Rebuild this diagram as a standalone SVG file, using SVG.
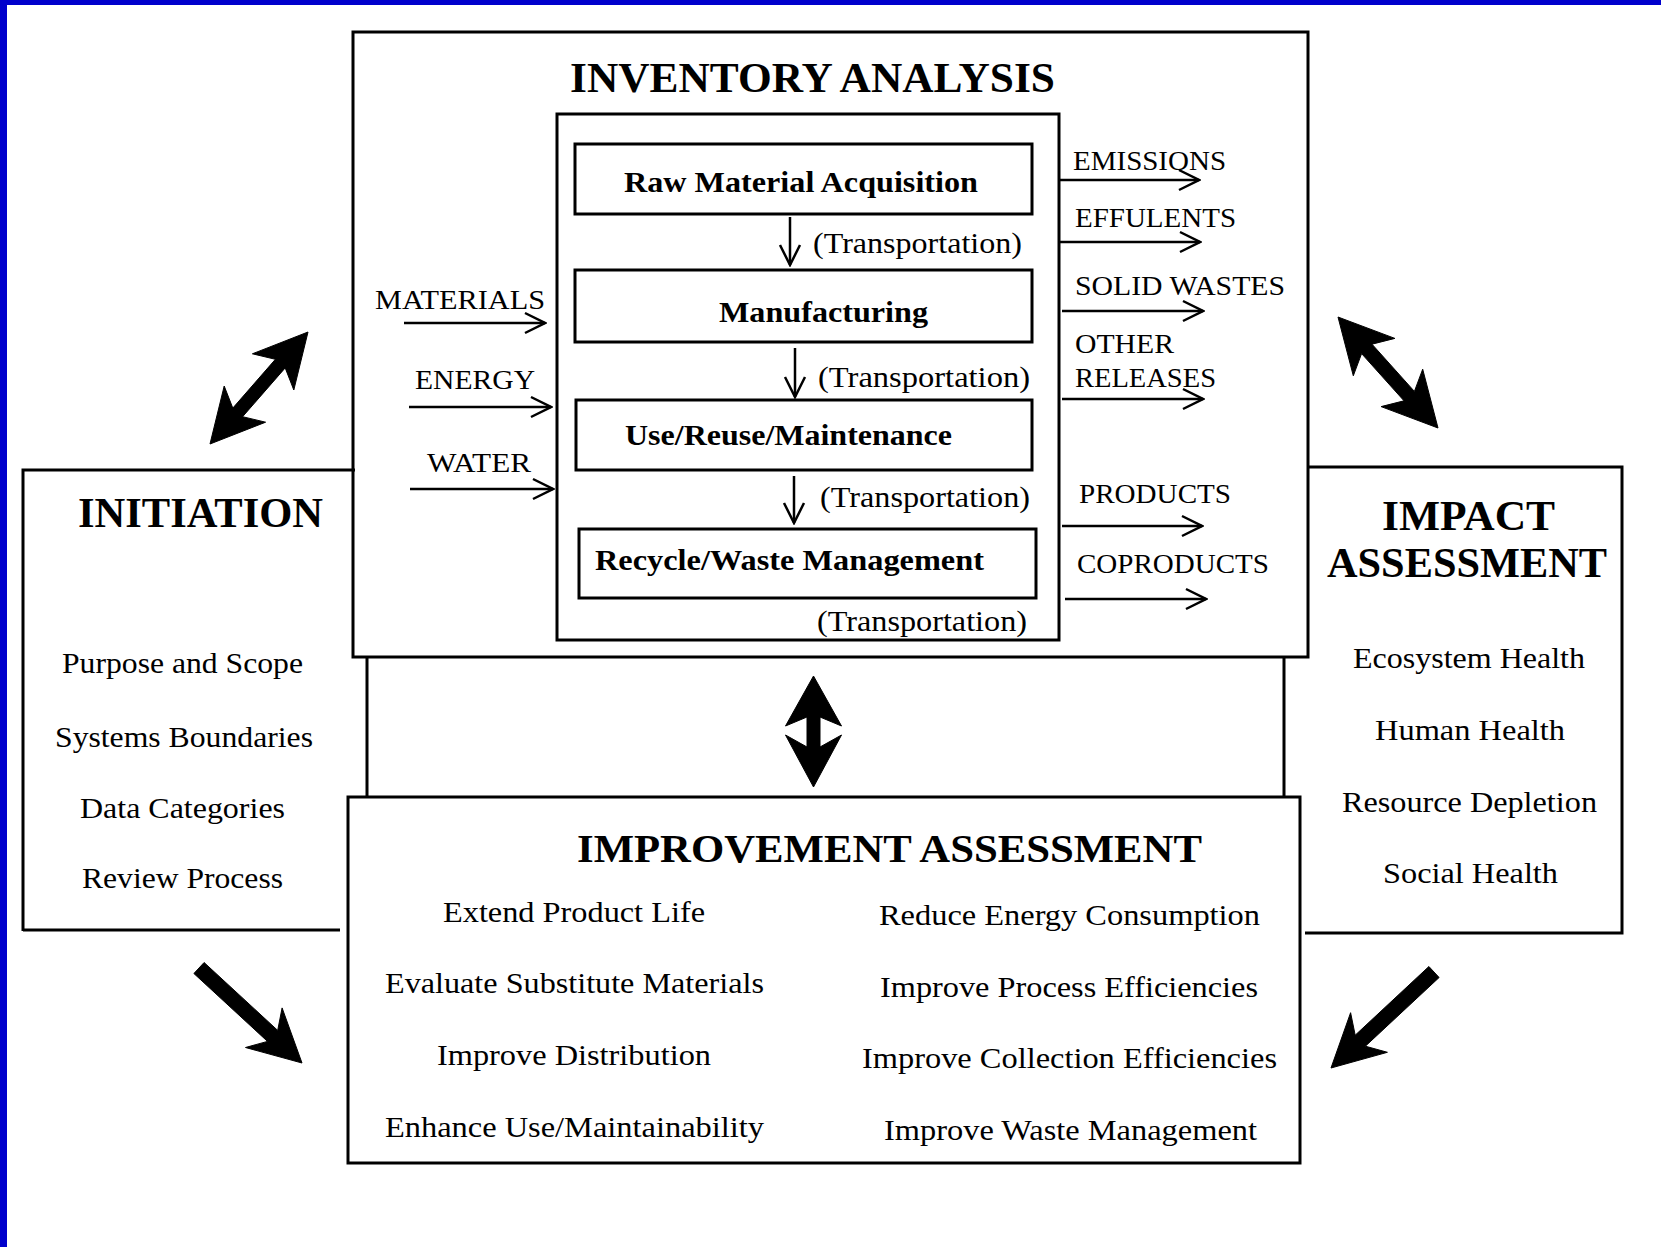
<svg xmlns="http://www.w3.org/2000/svg" width="1661" height="1247" viewBox="0 0 1661 1247">
<style>
text{font-family:"Liberation Serif","Times New Roman",serif;fill:#000}
.b{font-weight:bold}
.h{font-size:42px;font-weight:bold}
.lb{font-size:30px;font-weight:bold}
.t{font-size:30px}
.io{font-size:28px}
.box{fill:none;stroke:#000;stroke-width:3}
.ln{fill:none;stroke:#000;stroke-width:3}
.thin{fill:none;stroke:#000;stroke-width:2.5;marker-end:url(#ah)}
.fat{fill:#000;stroke:#000;stroke-width:1;stroke-linejoin:round}
</style>
<defs>
<marker id="ah" markerUnits="userSpaceOnUse" markerWidth="24" markerHeight="24" viewBox="0 0 24 24" refX="22" refY="12" orient="auto">
<path d="M2,2 L22,12 L2,22" fill="none" stroke="#000" stroke-width="2.5"/>
</marker>
</defs>
<rect x="0" y="0" width="1661" height="1247" fill="#fff"/>
<rect x="0" y="0" width="1661" height="5" fill="#0000cc"/>
<rect x="0" y="0" width="7" height="1247" fill="#0000cc"/>

<g id="inventory">
<rect class="box" x="353" y="32" width="955" height="625"/>
<text class="h" x="570" y="92" textLength="485" lengthAdjust="spacingAndGlyphs">INVENTORY ANALYSIS</text>
<rect class="box" x="557" y="114" width="502" height="526"/>
<text class="t" x="813" y="253" textLength="209" lengthAdjust="spacingAndGlyphs">(Transportation)</text>
<text class="t" x="818" y="387" textLength="212" lengthAdjust="spacingAndGlyphs">(Transportation)</text>
<text class="t" x="820" y="507" textLength="210" lengthAdjust="spacingAndGlyphs">(Transportation)</text>
<text class="t" x="817" y="631" textLength="210" lengthAdjust="spacingAndGlyphs">(Transportation)</text>
</g>
<g id="raw">
<rect class="box" x="575" y="144" width="457" height="70"/>
<text class="lb" x="624" y="192" textLength="354" lengthAdjust="spacingAndGlyphs">Raw Material Acquisition</text>
</g>
<g id="manufacturing">
<rect class="box" x="575" y="270" width="457" height="72"/>
<text class="lb" x="719" y="322" textLength="209" lengthAdjust="spacingAndGlyphs">Manufacturing</text>
</g>
<g id="use">
<rect class="box" x="576" y="400" width="456" height="70"/>
<text class="lb" x="625" y="445" textLength="327" lengthAdjust="spacingAndGlyphs">Use/Reuse/Maintenance</text>
</g>
<g id="recycle">
<rect class="box" x="579" y="529" width="457" height="69"/>
<text class="lb" x="595" y="570" textLength="389" lengthAdjust="spacingAndGlyphs">Recycle/Waste Management</text>
</g>

<g id="initiation">
<path class="ln" d="M355,470 L23,470 L23,931 M23,930 L340,930"/>
<text class="h" x="78" y="527" textLength="245" lengthAdjust="spacingAndGlyphs">INITIATION</text>
<text class="t" x="62" y="673" textLength="241" lengthAdjust="spacingAndGlyphs">Purpose and Scope</text>
<text class="t" x="55" y="747" textLength="258" lengthAdjust="spacingAndGlyphs">Systems Boundaries</text>
<text class="t" x="80" y="818" textLength="205" lengthAdjust="spacingAndGlyphs">Data Categories</text>
<text class="t" x="82" y="888" textLength="201" lengthAdjust="spacingAndGlyphs">Review Process</text>
</g>

<g id="impact">
<path class="ln" d="M1308,467 L1622,467 L1622,933 L1305,933"/>
<text class="h" x="1382" y="530" textLength="173" lengthAdjust="spacingAndGlyphs">IMPACT</text>
<text class="h" x="1327" y="577" textLength="280" lengthAdjust="spacingAndGlyphs">ASSESSMENT</text>
<text class="t" x="1353" y="668" textLength="232" lengthAdjust="spacingAndGlyphs">Ecosystem Health</text>
<text class="t" x="1375" y="740" textLength="190" lengthAdjust="spacingAndGlyphs">Human Health</text>
<text class="t" x="1342" y="812" textLength="255" lengthAdjust="spacingAndGlyphs">Resource Depletion</text>
<text class="t" x="1383" y="883" textLength="175" lengthAdjust="spacingAndGlyphs">Social Health</text>
</g>

<g id="improvement">
<rect class="box" x="348" y="797" width="952" height="366"/>
<text class="h" style="font-size:40px" x="577" y="862" textLength="625" lengthAdjust="spacingAndGlyphs">IMPROVEMENT ASSESSMENT</text>
<text class="t" x="443" y="922" textLength="262" lengthAdjust="spacingAndGlyphs">Extend Product Life</text>
<text class="t" x="385" y="993" textLength="379" lengthAdjust="spacingAndGlyphs">Evaluate Substitute Materials</text>
<text class="t" x="437" y="1065" textLength="274" lengthAdjust="spacingAndGlyphs">Improve Distribution</text>
<text class="t" x="385" y="1137" textLength="379" lengthAdjust="spacingAndGlyphs">Enhance Use/Maintainability</text>
<text class="t" x="879" y="925" textLength="381" lengthAdjust="spacingAndGlyphs">Reduce Energy Consumption</text>
<text class="t" x="880" y="997" textLength="378" lengthAdjust="spacingAndGlyphs">Improve Process Efficiencies</text>
<text class="t" x="862" y="1068" textLength="415" lengthAdjust="spacingAndGlyphs">Improve Collection Efficiencies</text>
<text class="t" x="884" y="1140" textLength="373" lengthAdjust="spacingAndGlyphs">Improve Waste Management</text>
</g>

<g id="connectors">
<path class="ln" d="M367,657 L367,797 M1284,657 L1284,797"/>
<line class="thin" x1="790" y1="217" x2="790" y2="265"/>
<line class="thin" x1="795" y1="348" x2="795" y2="397"/>
<line class="thin" x1="794" y1="476" x2="794" y2="523"/>
<line class="thin" x1="404" y1="323" x2="545" y2="323"/>
<line class="thin" x1="409" y1="407" x2="551" y2="407"/>
<line class="thin" x1="410" y1="489" x2="553" y2="489"/>
<line class="thin" x1="1060" y1="180" x2="1199" y2="180"/>
<line class="thin" x1="1060" y1="242" x2="1200" y2="242"/>
<line class="thin" x1="1062" y1="311" x2="1203" y2="311"/>
<line class="thin" x1="1062" y1="399" x2="1203" y2="399"/>
<line class="thin" x1="1062" y1="526" x2="1202" y2="526"/>
<line class="thin" x1="1065" y1="599" x2="1206" y2="599"/>
<text class="io" x="375" y="309" textLength="170" lengthAdjust="spacingAndGlyphs">MATERIALS</text>
<text class="io" x="415" y="389" textLength="120" lengthAdjust="spacingAndGlyphs">ENERGY</text>
<text class="io" x="427" y="472" textLength="104" lengthAdjust="spacingAndGlyphs">WATER</text>
<text class="io" x="1073" y="170" textLength="153" lengthAdjust="spacingAndGlyphs">EMISSIONS</text>
<text class="io" x="1075" y="227" textLength="161" lengthAdjust="spacingAndGlyphs">EFFULENTS</text>
<text class="io" x="1075" y="295" textLength="210" lengthAdjust="spacingAndGlyphs">SOLID WASTES</text>
<text class="io" x="1075" y="353" textLength="99" lengthAdjust="spacingAndGlyphs">OTHER</text>
<text class="io" x="1075" y="387" textLength="141" lengthAdjust="spacingAndGlyphs">RELEASES</text>
<text class="io" x="1079" y="503" textLength="152" lengthAdjust="spacingAndGlyphs">PRODUCTS</text>
<text class="io" x="1077" y="573" textLength="192" lengthAdjust="spacingAndGlyphs">COPRODUCTS</text>
<polygon class="fat" points="308,332 293.8,390 285.2,367.9 242.6,416.7 265.6,422.2 210,444 224.2,386 232.8,408.1 275.4,359.3 252.4,353.8"/>
<polygon class="fat" points="1338,317 1353.3,375.8 1361.6,353.6 1404,400.8 1381.1,406.6 1438,428 1422.7,369.2 1414.4,391.4 1372,344.2 1394.9,338.4"/>
<polygon class="fat" points="813.5,676 841.5,726 820,717 820,747 841.5,735 813.5,787 785.5,735 807,747 807,717 785.5,726"/>
<polygon class="fat" points="204.1,962.5 277.7,1030.4 282.1,1007.9 302,1063 245.5,1047.5 267.5,1041.4 193.9,973.5"/>
<polygon class="fat" points="1428.9,966.5 1355.2,1035.2 1350.6,1012.7 1331,1068 1387.4,1052.3 1365.4,1046.2 1439.1,977.5"/>
</g>
</svg>
